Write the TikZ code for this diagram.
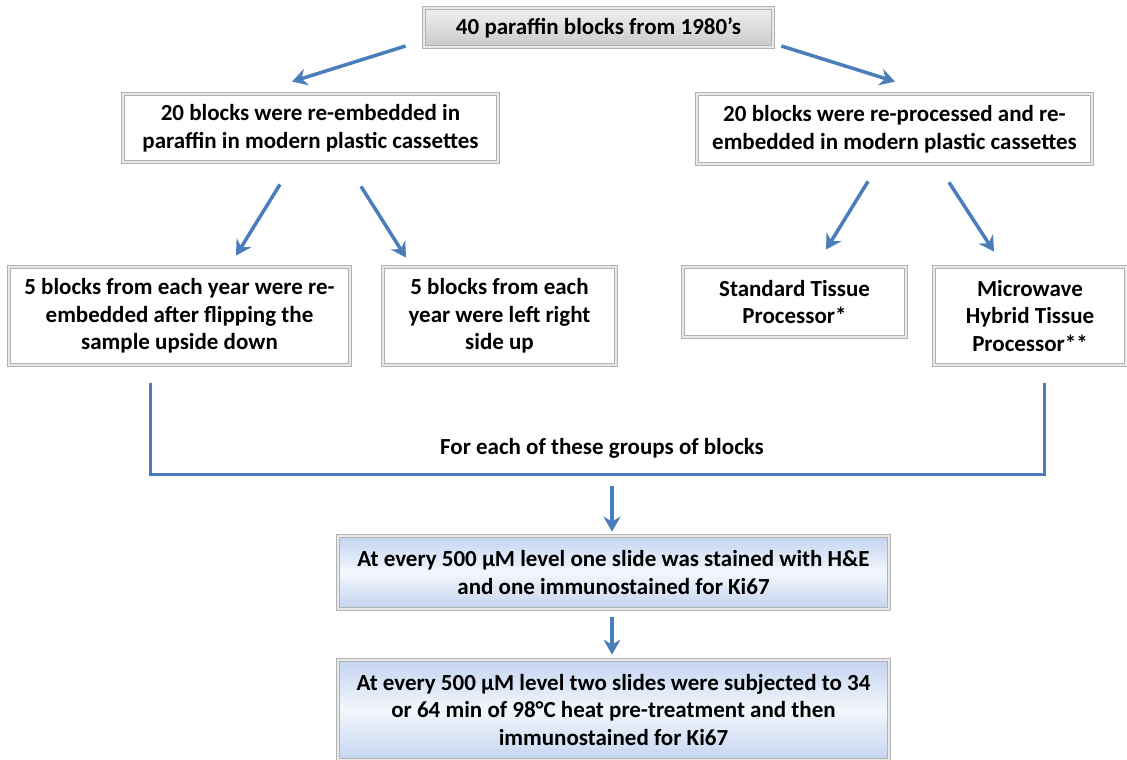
\documentclass[tikz,border=0pt]{standalone}
\usepackage{fontspec}
\setmainfont{Carlito}
\usetikzlibrary{arrows.meta,calc}
\definecolor{arrblue}{RGB}{74,126,187}
\definecolor{lblue}{RGB}{196,212,240}
\begin{document}
\begin{tikzpicture}[x=1pt,y=-1pt,
  box/.style={draw=gray!60, double=gray!18, double distance=2.5pt, line width=0.8pt,
    fill=white, align=center, inner sep=0pt,
    font=\fontsize{23}{27.5}\selectfont\bfseries},
  graybox/.style={box, top color=gray!12, bottom color=gray!42},
  bluebox/.style={box, top color=lblue, bottom color=lblue, middle color=white!80!lblue},
  arr/.style={draw=arrblue, line width=3.5pt, -{Stealth[length=15pt,width=17pt,inset=5pt]}},
  bracket/.style={draw=arrblue, line width=3pt}]
\useasboundingbox (0,0) rectangle (1127,760);
\fill[white] (0,0) rectangle (1127,760);
\node[graybox, minimum width=349, minimum height=39] (top) at (598.5,27.5) {40 paraffin blocks from 1980’s};
\node[box, minimum width=375, minimum height=68] (L1) at (310.5,128) {20 blocks were re-embedded in\\paraffin in modern plastic cassettes};
\node[box, minimum width=395, minimum height=70] (R1) at (894.5,129) {20 blocks were re-processed and re-\\embedded in modern plastic cassettes};
\node[box, minimum width=341, minimum height=98] (LL) at (179.5,316) {5 blocks from each year were re-\\embedded after flipping the\\sample upside down};
\node[box, minimum width=233, minimum height=98] (LR) at (499.5,316) {5 blocks from each\\year were left right\\side up};
\node[box, minimum width=223, minimum height=70] (RL) at (794.5,302) {Standard Tissue\\Processor*};
\node[box, minimum width=192, minimum height=98] (RR) at (1030,316) {Microwave\\Hybrid Tissue\\Processor**};
\node[bluebox, minimum width=551, minimum height=73] (mid) at (613.5,572.5) {At every 500 µM level one slide was stained with H\&E\\and one immunostained for Ki67};
\node[bluebox, minimum width=551, minimum height=100] (bot) at (613.5,710) {At every 500 µM level two slides were subjected to 34\\or 64 min of 98°C heat pre-treatment and then\\immunostained for Ki67};
\node[font=\fontsize{23}{27.5}\selectfont\bfseries] (lbl) at (602,448) {For each of these groups of blocks};
\draw[arr] ($(top.west)+(-18,18.5)$) -- ($(L1.north)+(-18.5,-12)$);
\draw[arr] ($(top.east)+(8,18.5)$) -- ($(R1.north)+(0.5,-12)$);
\draw[arr] ($(L1.south)+(-30.5,22)$) -- ($(LL.north)+(56.5,-11)$);
\draw[arr] ($(L1.south)+(50.5,24)$) -- ($(LR.north)+(-93.5,-9)$);
\draw[arr] ($(R1.south)+(-26.5,17)$) -- ($(RL.north)+(31.5,-17)$);
\draw[arr] ($(R1.south)+(54.5,18)$) -- ($(RR.north)+(-36,-15)$);
\coordinate (br1) at ($(LL.south)+(-29.5,18)$);
\coordinate (br2) at ($(RR.south)+(14,18)$);
\draw[bracket] (br1) -- ++(0,91) -| (br2);
\draw[arr] ($(mid.north)+(-1.5,-50)$) -- ($(mid.north)+(-1.5,-4)$);
\draw[arr] ($(mid.south)+(-1.5,8)$) -- ($(bot.north)+(-1.5,-5)$);
\end{tikzpicture}
\end{document}
